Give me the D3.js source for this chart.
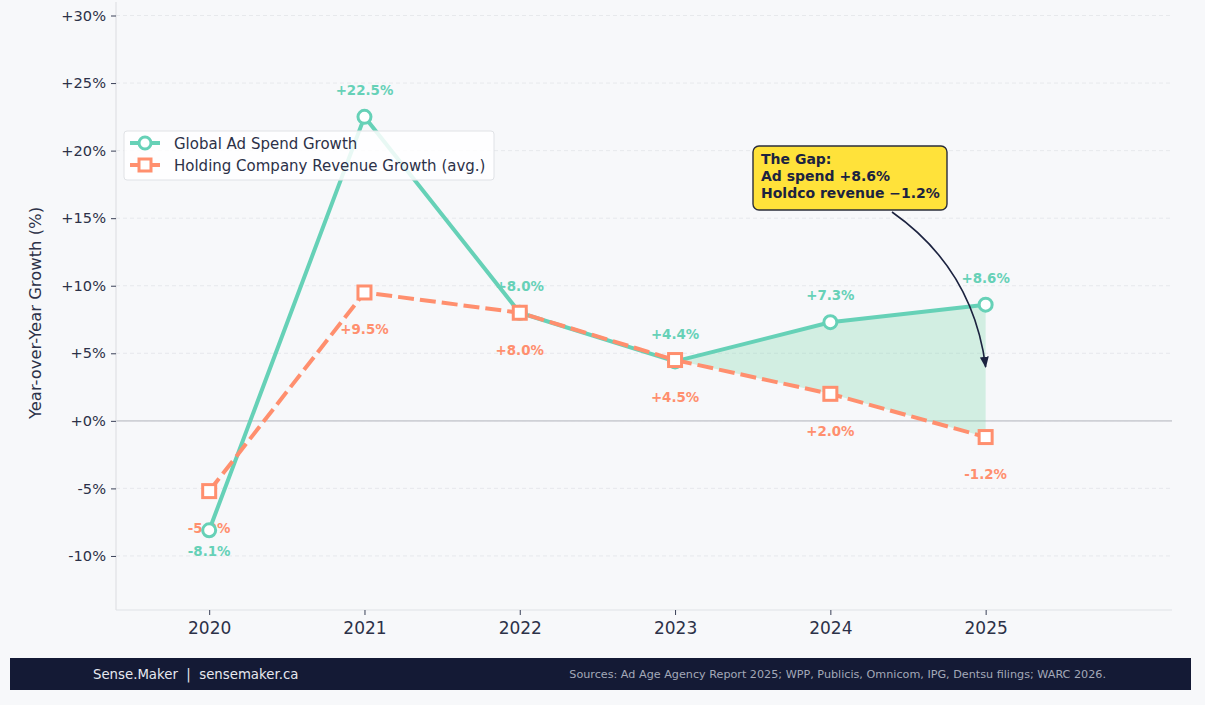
<!DOCTYPE html>
<html>
<head>
<meta charset="utf-8">
<script src="https://cdn.jsdelivr.net/npm/d3@7"></script>
<style>
  html, body { margin: 0; padding: 0; background: #f7f8fa; }
  svg { display: block; font-family: "DejaVu Sans", sans-serif; }
</style>
</head>
<body>
<div id="chart"></div>
<script>
// Data
var years = [2020, 2021, 2022, 2023, 2024, 2025];
var adSpend = [-8.1, 22.5, 8.0, 4.4, 7.3, 8.6];
var holdco = [-5.2, 9.5, 8.0, 4.5, 2.0, -1.2];
var yTicks = [-10, -5, 0, 5, 10, 15, 20, 25, 30];
var seriesNames = ["Global Ad Spend Growth", "Holding Company Revenue Growth (avg.)"];
var gapYears = [2023, 2024, 2025];
var noteLines = ["The Gap:", "Ad spend +8.6%", "Holdco revenue \u22121.2%"];
var footerLeft = "Sense.Maker  |  sensemaker.ca";
var footerRight = "Sources: Ad Age Agency Report 2025; WPP, Publicis, Omnicom, IPG, Dentsu filings; WARC 2026.";

(function () {
    "use strict";

    var W = 1205, H = 705;
    var teal = "#66d1b7", coral = "#ff8f6e", navy = "#1c2340";
    var margin = { top: 2, right: 33, bottom: 95, left: 116 };
    var width = W - margin.left - margin.right;
    var height = H - margin.top - margin.bottom;

    var root = d3.select("#chart").append("svg")
        .attr("width", W).attr("height", H);

    root.append("rect").attr("width", W).attr("height", H).attr("fill", "#f7f8fa");

    var svg = root.append("g")
        .attr("transform", "translate(" + margin.left + "," + margin.top + ")");

    var x = d3.scaleLinear().domain([2019.4, 2026.2]).range([0, width]);
    var y = d3.scaleLinear().domain([-14, 31]).range([height, 0]);

    // Grid
    svg.append("g")
        .selectAll("line")
        .data(yTicks)
        .enter().append("line")
        .attr("x1", 0).attr("x2", width)
        .attr("y1", function (d) { return y(d); })
        .attr("y2", function (d) { return y(d); })
        .attr("stroke", "#e2e4e8")
        .attr("stroke-width", 0.8)
        .attr("stroke-dasharray", "4,3");

    // Zero line
    svg.append("line")
        .attr("x1", 0).attr("x2", width)
        .attr("y1", y(0)).attr("y2", y(0))
        .attr("stroke", "#cfd1d6")
        .attr("stroke-width", 1.6);

    // Spines
    svg.append("line").attr("x1", 0).attr("x2", 0).attr("y1", 0).attr("y2", height)
        .attr("stroke", "#dfe1e5").attr("stroke-width", 1.2);
    svg.append("line").attr("x1", 0).attr("x2", width).attr("y1", height).attr("y2", height)
        .attr("stroke", "#dfe1e5").attr("stroke-width", 1.2);

    // Axes
    var fmt = function (d) { return (d >= 0 ? "+" : "-") + Math.abs(d) + "%"; };
    var yAxis = svg.append("g")
        .call(d3.axisLeft(y).tickValues(yTicks).tickFormat(fmt).tickSize(5).tickPadding(5));
    yAxis.select(".domain").remove();
    yAxis.selectAll("line").attr("stroke", "#3a4058");
    yAxis.selectAll("text").attr("fill", "#2c3148").attr("font-size", "14.6px")
        .attr("font-family", "DejaVu Sans");

    var xAxis = svg.append("g")
        .attr("transform", "translate(0," + height + ")")
        .call(d3.axisBottom(x).tickValues(years).tickFormat(d3.format("d")).tickSize(5).tickPadding(7));
    xAxis.select(".domain").remove();
    xAxis.selectAll("line").attr("stroke", "#3a4058");
    xAxis.selectAll("text").attr("fill", "#2c3148").attr("font-size", "17px")
        .attr("font-family", "DejaVu Sans");

    root.append("text")
        .attr("transform", "translate(41,313) rotate(-90)")
        .attr("text-anchor", "middle")
        .attr("fill", "#2c3148")
        .attr("font-size", "16.4px")
        .text("Year-over-Year Growth (%)");

    // Gap fill
    var gap = gapYears.map(function (yr) {
        var i = years.indexOf(yr);
        return { year: yr, top: adSpend[i], bottom: holdco[i] };
    });
    svg.append("path")
        .datum(gap)
        .attr("d", d3.area()
            .x(function (d) { return x(d.year); })
            .y0(function (d) { return y(d.bottom); })
            .y1(function (d) { return y(d.top); }))
        .attr("fill", "#7fd8ad")
        .attr("opacity", 0.3);

    var adPts = years.map(function (yr, i) { return { year: yr, v: adSpend[i] }; });
    var hcPts = years.map(function (yr, i) { return { year: yr, v: holdco[i] }; });

    // Value labels
    var pctFmt = function (v) { return (v >= 0 ? "+" : "") + v.toFixed(1) + "%"; };
    svg.append("g").selectAll("text")
        .data(hcPts).enter().append("text")
        .attr("x", function (d) { return x(d.year); })
        .attr("y", function (d) { return y(d.v) + 42; })
        .attr("text-anchor", "middle")
        .attr("fill", coral).attr("font-weight", "bold").attr("font-size", "13.4px")
        .text(function (d) { return pctFmt(d.v); });
    svg.append("g").selectAll("text")
        .data(adPts).enter().append("text")
        .attr("x", function (d) { return x(d.year); })
        .attr("y", function (d) { return d.v < 0 ? y(d.v) + 26 : y(d.v) - 22; })
        .attr("text-anchor", "middle")
        .attr("fill", teal).attr("font-weight", "bold").attr("font-size", "13.4px")
        .text(function (d) { return pctFmt(d.v); });

    var line = d3.line()
        .x(function (d) { return x(d.year); })
        .y(function (d) { return y(d.v); });

    // Ad spend series
    svg.append("path").datum(adPts).attr("d", line)
        .attr("fill", "none").attr("stroke", teal).attr("stroke-width", 4)
        .attr("stroke-linejoin", "round");
    svg.append("g").selectAll("circle")
        .data(adPts).enter().append("circle")
        .attr("cx", function (d) { return x(d.year); })
        .attr("cy", function (d) { return y(d.v); })
        .attr("r", 6.5)
        .attr("fill", "#ffffff").attr("stroke", teal).attr("stroke-width", 3);

    // Holdco series
    svg.append("path").datum(hcPts).attr("d", line)
        .attr("fill", "none").attr("stroke", coral).attr("stroke-width", 4)
        .attr("stroke-dasharray", "16,6");
    svg.append("g").selectAll("rect")
        .data(hcPts).enter().append("rect")
        .attr("x", function (d) { return x(d.year) - 6.5; })
        .attr("y", function (d) { return y(d.v) - 6.5; })
        .attr("width", 13).attr("height", 13)
        .attr("fill", "#ffffff").attr("stroke", coral).attr("stroke-width", 3);

    // Annotation
    var tipX = x(2025), tipY = y(4.0);
    var bx = 753 - margin.left, by = 146 - margin.top, bw = 194, bh = 64;
    var sx = 892 - margin.left, sy = by + bh + 2;
    var mx = (sx + tipX) / 2, my = (sy + tipY) / 2;
    var dx = tipX - sx, dy = tipY - sy;
    var rad = 0.22;
    var cx = mx + rad * dy, cy = my - rad * dx;
    root.append("defs").append("marker")
        .attr("id", "arrow").attr("viewBox", "0 0 10 10")
        .attr("refX", 9).attr("refY", 5)
        .attr("markerWidth", 7).attr("markerHeight", 7)
        .attr("orient", "auto-start-reverse")
        .append("path").attr("d", "M0,1 L10,5 L0,9 z").attr("fill", navy);
    svg.append("path")
        .attr("d", "M" + sx + "," + sy + " Q" + cx + "," + cy + " " + tipX + "," + tipY)
        .attr("fill", "none").attr("stroke", navy).attr("stroke-width", 1.6)
        .attr("marker-end", "url(#arrow)");
    svg.append("rect")
        .attr("x", bx).attr("y", by).attr("width", bw).attr("height", bh)
        .attr("rx", 6).attr("ry", 6)
        .attr("fill", "#ffe23a").attr("stroke", "#2a2d3a").attr("stroke-width", 1.4);
    svg.append("g").selectAll("text")
        .data(noteLines).enter().append("text")
        .attr("x", bx + 8)
        .attr("y", function (d, i) { return by + 18 + i * 17; })
        .attr("fill", navy).attr("font-weight", "bold").attr("font-size", "14px")
        .text(function (d) { return d; });

    // Legend
    var lg = root.append("g").attr("transform", "translate(124,131)");
    lg.append("rect").attr("width", 370).attr("height", 49).attr("rx", 3)
        .attr("fill", "#ffffff").attr("fill-opacity", 0.85)
        .attr("stroke", "#e0e2e6").attr("stroke-width", 1);
    var items = lg.selectAll("g.item").data(seriesNames).enter().append("g")
        .attr("transform", function (d, i) { return "translate(6," + (12 + i * 22) + ")"; });
    items.append("line").attr("x1", 0).attr("x2", 30).attr("y1", 0).attr("y2", 0)
        .attr("stroke", function (d, i) { return i ? coral : teal; }).attr("stroke-width", 4);
    items.each(function (d, i) {
        var g = d3.select(this);
        if (i === 0) {
            g.append("circle").attr("cx", 15).attr("cy", 0).attr("r", 6)
                .attr("fill", "#fff").attr("stroke", teal).attr("stroke-width", 3);
        } else {
            g.append("rect").attr("x", 9).attr("y", -6).attr("width", 12).attr("height", 12)
                .attr("fill", "#fff").attr("stroke", coral).attr("stroke-width", 3);
        }
    });
    items.append("text").attr("x", 44).attr("y", 5.5)
        .attr("fill", "#2c3148").attr("font-size", "15px")
        .text(function (d) { return d; });

    // Footer
    root.append("rect").attr("x", 10).attr("y", 658).attr("width", 1181).attr("height", 32)
        .attr("fill", "#141a35");
    root.append("text").attr("x", 93).attr("y", 679)
        .attr("fill", "#e6e8ef").attr("font-size", "13.3px")
        .attr("xml:space", "preserve").style("white-space", "pre")
        .text(footerLeft);
    root.append("text").attr("x", 1106).attr("y", 678).attr("text-anchor", "end")
        .attr("fill", "#a3a8b8").attr("font-size", "11.2px")
        .text(footerRight);
})();
</script>
</body>
</html>
